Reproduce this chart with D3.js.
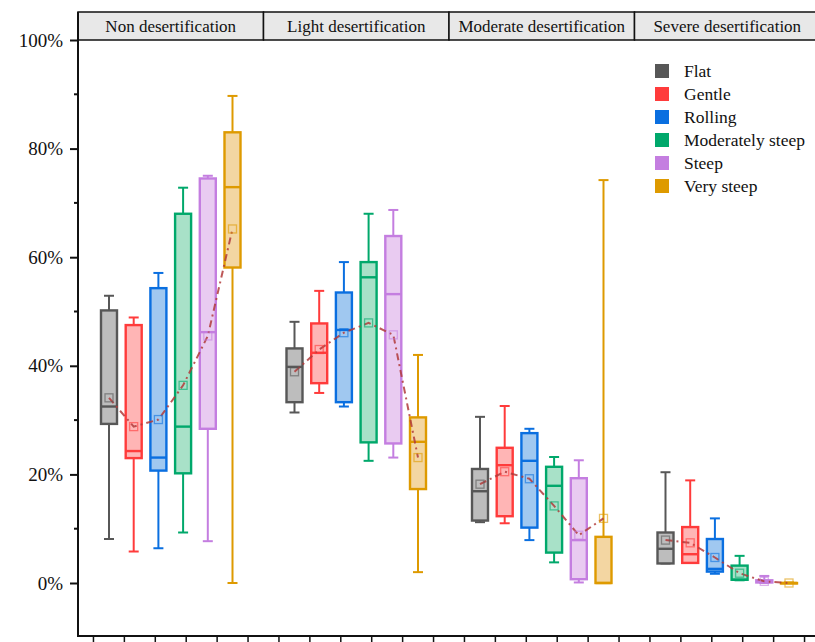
<!DOCTYPE html>
<html>
<head>
<meta charset="utf-8">
<script src="https://cdn.jsdelivr.net/npm/d3@7"></script>
<style>
  html, body { margin: 0; padding: 0; background: #fff; }
  svg { display: block; font-family: "Liberation Serif", "Times New Roman", serif; }
  svg text { font-family: "Liberation Serif", "Times New Roman", serif; }
</style>
</head>
<body>
<svg id="chart" width="815" height="642"></svg>
<script>
// Desertification grade panels and slope classes
const panels = ["Non desertification", "Light desertification", "Moderate desertification", "Severe desertification"];
const slopes = ["Flat", "Gentle", "Rolling", "Moderately steep", "Steep", "Very steep"];

// Box statistics (fraction of area), one row per panel, one entry per slope class
const whiskerLow = [
  [0.081, 0.058, 0.064, 0.093, 0.077, 0.000],
  [0.314, 0.350, 0.325, 0.225, 0.231, 0.020],
  [0.112, 0.110, 0.079, 0.038, 0.001, 0.000],
  [0.036, 0.037, 0.017, 0.005, 0.000, 0.000]
];
const q1 = [
  [0.293, 0.230, 0.207, 0.202, 0.284, 0.581],
  [0.333, 0.368, 0.333, 0.259, 0.257, 0.173],
  [0.115, 0.123, 0.102, 0.056, 0.007, 0.000],
  [0.036, 0.037, 0.021, 0.006, 0.001, 0.000]
];
const median = [
  [0.325, 0.243, 0.231, 0.288, 0.462, 0.729],
  [0.398, 0.424, 0.466, 0.563, 0.532, 0.260],
  [0.169, 0.217, 0.225, 0.179, 0.079, 0.000],
  [0.063, 0.053, 0.026, 0.006, 0.002, 0.000]
];
const q3 = [
  [0.502, 0.475, 0.543, 0.680, 0.745, 0.830],
  [0.432, 0.478, 0.535, 0.591, 0.639, 0.305],
  [0.210, 0.249, 0.276, 0.214, 0.193, 0.085],
  [0.093, 0.103, 0.081, 0.032, 0.005, 0.000]
];
const whiskerHigh = [
  [0.529, 0.489, 0.571, 0.728, 0.750, 0.897],
  [0.481, 0.538, 0.591, 0.680, 0.687, 0.420],
  [0.306, 0.326, 0.284, 0.232, 0.226, 0.742],
  [0.204, 0.189, 0.119, 0.050, 0.013, 0.001]
];
const meanVal = [
  [0.341, 0.288, 0.301, 0.364, 0.455, 0.652],
  [0.389, 0.430, 0.461, 0.479, 0.457, 0.231],
  [0.182, 0.205, 0.192, 0.142, 0.088, 0.119],
  [0.079, 0.074, 0.047, 0.018, 0.003, 0.000]
];

const yTicks = [0, 0.2, 0.4, 0.6, 0.8, 1.0];

// Colour pairs per slope class: outline and translucent fill
const strokeColors = ["#575757", "#ff3b3b", "#0a6fe0", "#00a86b", "#c47ee0", "#de9a00"];
const fillColors   = ["#bdbdbd", "#ffb5b5", "#a0c8f0", "#a8e1c8", "#e9cbf1", "#f3d6a2"];
const meanLineColor = "#b13b3b";
const serif = "Liberation Serif, Times New Roman, serif";

const svg = d3.select("#chart");

const plotLeft = 78, plotRight = 820, plotTop = 40, plotBottom = 636, headerTop = 12;

const y = d3.scaleLinear().domain([0, 1]).range([583, 40]);
const xPanel = d3.scaleBand().domain(panels).range([plotLeft, plotRight]);
const xBox = d3.scalePoint().domain(slopes).range([31, xPanel.bandwidth() - 31]);
const xTick = d3.scaleBand().domain(slopes).range([0, xPanel.bandwidth()]);
const color = d3.scaleOrdinal().domain(slopes).range(strokeColors);
const fill = d3.scaleOrdinal().domain(slopes).range(fillColors);

const boxW = 16, capW = 10;

// Panel header strips
const header = svg.append("g");
panels.forEach(p => {
  header.append("rect")
    .attr("x", xPanel(p)).attr("y", headerTop)
    .attr("width", xPanel.bandwidth()).attr("height", plotTop - headerTop)
    .attr("fill", "#e8e8e8").attr("stroke", "#111").attr("stroke-width", 1.5);
  header.append("text")
    .attr("x", xPanel(p) + xPanel.bandwidth() / 2).attr("y", plotTop - 8)
    .attr("text-anchor", "middle").attr("font-size", 17).attr("fill", "#111")
    .attr("font-family", serif)
    .text(p);
});

// Boxes, whiskers and mean markers
panels.forEach((p, pi) => {
  const g = svg.append("g").attr("transform", `translate(${xPanel(p)},0)`);
  slopes.forEach((s, si) => {
    const cx = xBox(s);
    const c = color(s);
    // whiskers
    g.append("line").attr("x1", cx).attr("x2", cx)
      .attr("y1", y(whiskerHigh[pi][si])).attr("y2", y(q3[pi][si]))
      .attr("stroke", c).attr("stroke-width", 2);
    g.append("line").attr("x1", cx).attr("x2", cx)
      .attr("y1", y(q1[pi][si])).attr("y2", y(whiskerLow[pi][si]))
      .attr("stroke", c).attr("stroke-width", 2);
    [whiskerHigh[pi][si], whiskerLow[pi][si]].forEach(v => {
      g.append("line").attr("x1", cx - capW / 2).attr("x2", cx + capW / 2)
        .attr("y1", y(v)).attr("y2", y(v))
        .attr("stroke", c).attr("stroke-width", 2);
    });
    // box
    g.append("rect")
      .attr("x", cx - boxW / 2).attr("y", y(q3[pi][si]))
      .attr("width", boxW).attr("height", Math.max(0.5, y(q1[pi][si]) - y(q3[pi][si])))
      .attr("fill", fill(s)).attr("stroke", c).attr("stroke-width", 2.4);
    // median
    g.append("line").attr("x1", cx - boxW / 2).attr("x2", cx + boxW / 2)
      .attr("y1", y(median[pi][si])).attr("y2", y(median[pi][si]))
      .attr("stroke", c).attr("stroke-width", 2.4);
  });

  // dash-dot line through the means
  const line = d3.line().x((d, i) => xBox(slopes[i])).y(d => y(d));
  g.append("path").datum(meanVal[pi])
    .attr("d", line).attr("fill", "none")
    .attr("stroke", meanLineColor).attr("stroke-width", 2)
    .attr("stroke-dasharray", "7,4,2,4").attr("opacity", 0.85);

  slopes.forEach((s, si) => {
    g.append("rect")
      .attr("x", xBox(s) - 4).attr("y", y(meanVal[pi][si]) - 4)
      .attr("width", 8).attr("height", 8)
      .attr("fill", "none").attr("stroke", color(s)).attr("stroke-opacity", 0.6).attr("stroke-width", 1.3);
  });
});

// Y axis
const yAxisG = svg.append("g").attr("transform", `translate(${plotLeft},0)`);
yAxisG.append("line").attr("x1", 0).attr("x2", 0).attr("y1", headerTop).attr("y2", plotBottom)
  .attr("stroke", "#111").attr("stroke-width", 2);
const yAxis = d3.axisLeft(y).tickValues(yTicks).tickSize(8).tickPadding(7)
  .tickFormat(d3.format(".0%"));
const ya = yAxisG.append("g").call(yAxis).attr("font-family", serif);
ya.select(".domain").remove();
ya.selectAll(".tick line").attr("stroke", "#111").attr("stroke-width", 2);
ya.selectAll(".tick text").attr("font-size", 19).attr("fill", "#111")
  .attr("font-family", serif);
const minor = d3.range(0.1, 1.0, 0.2);
yAxisG.selectAll(".minor").data(minor).enter().append("line")
  .attr("x1", -4).attr("x2", 0).attr("y1", d => y(d)).attr("y2", d => y(d))
  .attr("stroke", "#111").attr("stroke-width", 2);

// Bottom axis with a tick per slope slot in every panel
const xAxisG = svg.append("g");
xAxisG.append("line").attr("x1", plotLeft - 1).attr("x2", plotRight)
  .attr("y1", plotBottom).attr("y2", plotBottom)
  .attr("stroke", "#111").attr("stroke-width", 2);
panels.forEach(p => {
  slopes.forEach(s => {
    const tx = xPanel(p) + xTick(s) + xTick.bandwidth() / 2;
    xAxisG.append("line").attr("x1", tx).attr("x2", tx)
      .attr("y1", plotBottom).attr("y2", plotBottom + 7)
      .attr("stroke", "#111").attr("stroke-width", 1.5);
  });
});

// Legend
const legend = svg.append("g").attr("transform", "translate(655,71)");
slopes.forEach((s, i) => {
  const row = legend.append("g").attr("transform", `translate(0,${i * 23})`);
  row.append("rect").attr("x", 0).attr("y", -7).attr("width", 14).attr("height", 14)
    .attr("fill", color(s));
  row.append("text").attr("x", 29).attr("y", 6).attr("font-size", 17.5).attr("fill", "#111")
    .attr("font-family", serif).text(s);
});
</script>
</body>
</html>
